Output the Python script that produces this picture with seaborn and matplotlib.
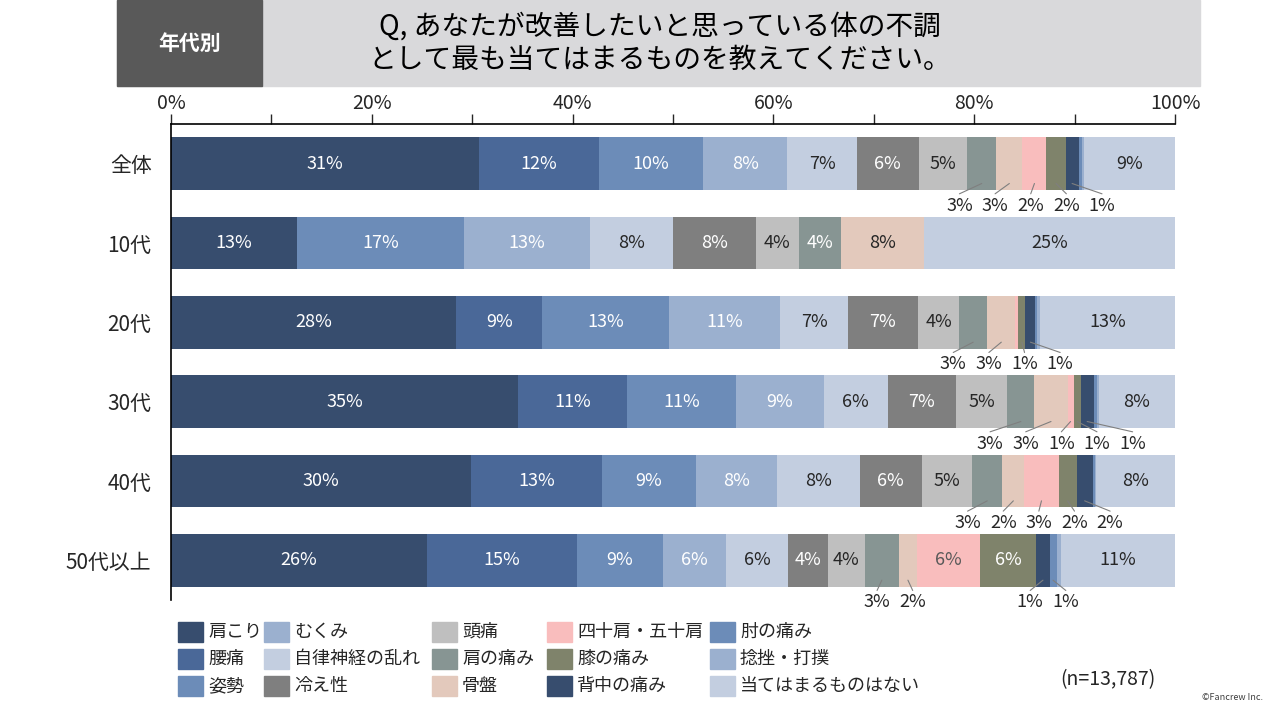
import numpy as np
import pandas as pd
import matplotlib
matplotlib.use('Agg')
import matplotlib.pyplot as plt
from matplotlib.patches import Rectangle
import seaborn as sns

# Data (percent of respondents)
rows = ['全体', '10代', '20代', '30代', '40代', '50代以上']
categories = ['肩こり', '腰痛', '姿勢', 'むくみ', '自律神経の乱れ', '冷え性', '頭痛', '肩の痛み',
              '骨盤', '四十肩・五十肩', '膝の痛み', '背中の痛み', '肘の痛み', '捻挫・打撲',
              '当てはまるものはない']
zentai = [30.7, 11.9, 10.4, 8.4, 6.9, 6.2, 4.8, 2.9, 2.6, 2.4, 1.9, 1.3, 0.3, 0.2, 9.1]
age10 = [12.5, 0.0, 16.7, 12.5, 8.3, 8.3, 4.2, 4.2, 8.3, 0.0, 0.0, 0.0, 0.0, 0.0, 25.0]
age20 = [28.4, 8.6, 12.6, 11.1, 6.7, 7.0, 4.1, 2.8, 2.8, 0.3, 0.7, 1.0, 0.2, 0.3, 13.4]
age30 = [34.6, 10.8, 10.9, 8.7, 6.4, 6.8, 5.1, 2.7, 3.3, 0.6, 0.7, 1.3, 0.3, 0.2, 7.6]
age40 = [29.9, 13.0, 9.4, 8.1, 8.2, 6.2, 5.0, 3.0, 2.2, 3.4, 1.8, 1.6, 0.2, 0.1, 7.9]
age50 = [25.5, 14.9, 8.6, 6.3, 6.2, 3.9, 3.7, 3.4, 1.8, 6.3, 5.6, 1.3, 0.7, 0.4, 11.4]

colors = ['#374D6E', '#4A6898', '#6C8CB8', '#9BB0CF', '#C3CEE0', '#7F7F7F', '#BFBFBF', '#879593',
          '#E3C9BC', '#F9BDBD', '#7F836B', '#374D6E', '#6C8CB8', '#9BB0CF', '#C3CEE0']
text_colors = ['white', 'white', 'white', 'white', '#262626', 'white', '#262626', 'white',
               '#262626', '#595959', 'white', 'white', 'white', 'white', '#262626']

df = pd.DataFrame([zentai, age10, age20, age30, age40, age50], index=rows, columns=categories)
df.index.name = 'age'
cum = df.cumsum(axis=1)
cum_data = cum.reset_index()

sns.set_style('white')
plt.rcParams['font.family'] = ['Noto Sans CJK JP', 'DejaVu Sans']

W, H = 1280, 720
fig = plt.figure(figsize=(12.8, 7.2), dpi=100)
ax = fig.add_axes([171 / W, 1 - 600 / H, (1175 - 171) / W, (600 - 124) / H])

# stacked bars: draw cumulative totals from the last category to the first
for k in range(len(categories) - 1, -1, -1):
    sns.barplot(data=cum_data, x=categories[k], y='age', order=rows, color=colors[k],
                width=0.66, saturation=1, errorbar=None, orient='h', ax=ax,
                linewidth=0, edgecolor='none')

ax.set_xlim(0, 100)
ax.set_ylim(5.5, -0.5)
ax.set_xlabel('')
ax.set_ylabel('')
ax.xaxis.tick_top()
ticks = np.arange(0, 101, 10)
ax.set_xticks(ticks)
ax.set_xticklabels([f'{t}%' if t % 20 == 0 else '' for t in ticks])
ax.tick_params(axis='x', direction='out', length=7, width=1, pad=0, labelsize=14,
               colors='#262626')
ax.tick_params(axis='y', length=0, pad=14, labelsize=15, labelcolor='#262626')
for side in ['right', 'bottom']:
    ax.spines[side].set_visible(False)
for side in ['top', 'left']:
    ax.spines[side].set_color('black')
    ax.spines[side].set_linewidth(1.2)

# value labels
half = 0.33
spacing = 3.55
for i, row in enumerate(rows):
    vals = df.loc[row].values
    lefts = cum.loc[row].values - vals
    small = []
    for k, v in enumerate(vals):
        if v <= 0:
            continue
        c = lefts[k] + v / 2
        txt = f'{int(np.floor(v + 0.5))}%'
        if v >= 3.6:
            ax.text(c, i, txt, ha='center', va='center', color=text_colors[k], fontsize=13)
        elif v >= 0.5:
            small.append((c, txt))
    # spread the small labels below the bar
    clusters = [[s] for s in small]
    merged = True
    while merged:
        merged = False
        for j in range(len(clusters) - 1):
            a, b = clusters[j], clusters[j + 1]
            ma = np.mean([s[0] for s in a])
            mb = np.mean([s[0] for s in b])
            end_a = ma + (len(a) - 1) * spacing / 2
            start_b = mb - (len(b) - 1) * spacing / 2
            if start_b - end_a < spacing:
                clusters[j] = a + b
                del clusters[j + 1]
                merged = True
                break
    for cl in clusters:
        m = np.mean([s[0] for s in cl])
        pos = m + (np.arange(len(cl)) - (len(cl) - 1) / 2) * spacing
        for (c, txt), lx in zip(cl, pos):
            ax.plot([c, lx], [i + half - 0.08, i + half + 0.05], color='#7F7F7F', lw=0.8)
            ax.text(lx, i + half + 0.2, txt, ha='center', va='center', color='#262626',
                    fontsize=13)

# header
fig.patches.append(Rectangle((117 / W, 1 - 86 / H), (1200 - 117) / W, 86 / H,
                             transform=fig.transFigure, color='#D9D9DB', zorder=0))
fig.patches.append(Rectangle((117 / W, 1 - 86 / H), (262 - 117) / W, 86 / H,
                             transform=fig.transFigure, color='#595959', zorder=1))
fig.text(190 / W, 1 - 43 / H, '年代別', ha='center', va='center', color='white',
         fontsize=15, fontweight='bold')
fig.text(660 / W, 1 - 43 / H, 'Q, あなたが改善したいと思っている体の不調\nとして最も当てはまるものを教えてください。',
         ha='center', va='center', fontsize=20, linespacing=1.15, color='black')

# legend
col_x = [178, 264, 432, 547, 710]
row_y = [632, 659, 686]
for k, cat in enumerate(categories):
    cx = col_x[k // 3]
    cy = row_y[k % 3]
    fig.patches.append(Rectangle((cx / W, 1 - (cy + 10) / H), 25 / W, 20 / H,
                                 transform=fig.transFigure, color=colors[k]))
    fig.text((cx + 30) / W, 1 - cy / H, cat, ha='left', va='center', fontsize=13,
             color='#262626')

fig.text(1108 / W, 1 - 680 / H, '(n=13,787)', ha='center', va='center', fontsize=14,
         color='#262626')
fig.text(1232 / W, 1 - 698 / H, '©Fancrew Inc.', ha='center', va='center', fontsize=6.5,
         color='#404040')

fig.savefig('out.png', dpi=100)
